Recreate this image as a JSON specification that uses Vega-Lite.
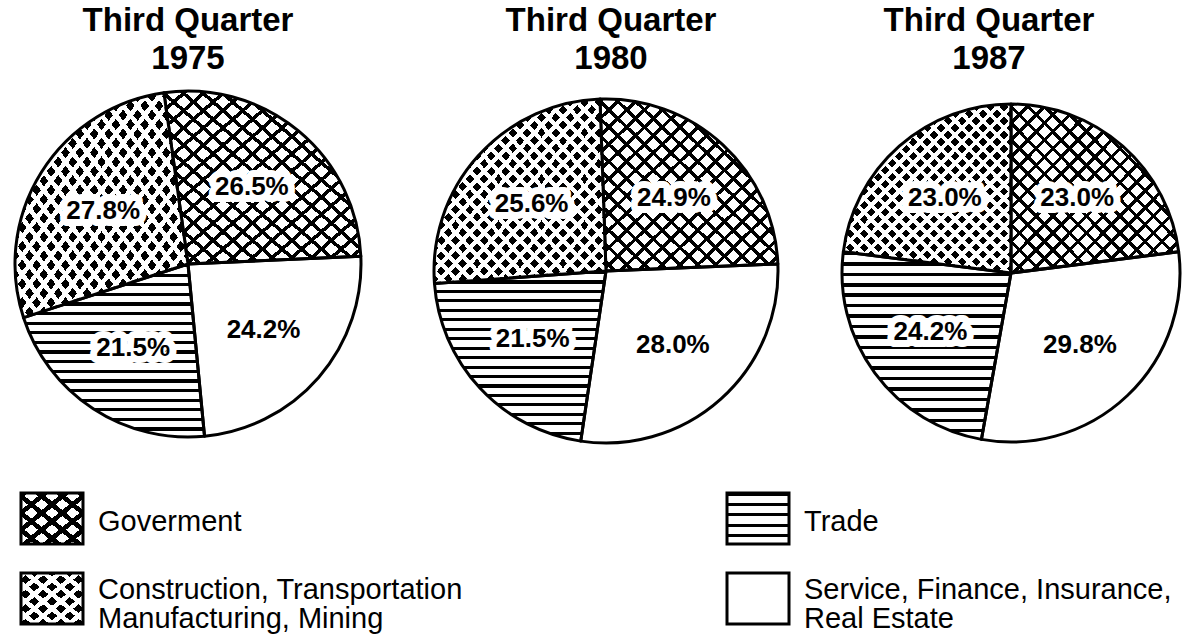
{
  "$schema": "https://vega.github.io/schema/vega-lite/v6.json",
  "background": "white",
  "padding": {"left": 0, "top": 5, "right": 0, "bottom": 0},
  "config": {"view": {"stroke": null}, "font": "Liberation Sans", "concat": {"spacing": 0}},
  "params": [
    {"name": "gTrade", "value": {"gradient": "linear", "x1": 0, "y1": 0, "x2": 0, "y2": 1, "stops": [
      {"offset": 0, "color": "#000"}, {"offset": 0.0183, "color": "#000"}, {"offset": 0.0183, "color": "#fff"}, {"offset": 0.0556, "color": "#fff"},
      {"offset": 0.0556, "color": "#000"}, {"offset": 0.0739, "color": "#000"}, {"offset": 0.0739, "color": "#fff"}, {"offset": 0.1111, "color": "#fff"},
      {"offset": 0.1111, "color": "#000"}, {"offset": 0.1294, "color": "#000"}, {"offset": 0.1294, "color": "#fff"}, {"offset": 0.1667, "color": "#fff"},
      {"offset": 0.1667, "color": "#000"}, {"offset": 0.185, "color": "#000"}, {"offset": 0.185, "color": "#fff"}, {"offset": 0.2222, "color": "#fff"},
      {"offset": 0.2222, "color": "#000"}, {"offset": 0.2406, "color": "#000"}, {"offset": 0.2406, "color": "#fff"}, {"offset": 0.2778, "color": "#fff"},
      {"offset": 0.2778, "color": "#000"}, {"offset": 0.2961, "color": "#000"}, {"offset": 0.2961, "color": "#fff"}, {"offset": 0.3333, "color": "#fff"},
      {"offset": 0.3333, "color": "#000"}, {"offset": 0.3517, "color": "#000"}, {"offset": 0.3517, "color": "#fff"}, {"offset": 0.3889, "color": "#fff"},
      {"offset": 0.3889, "color": "#000"}, {"offset": 0.4072, "color": "#000"}, {"offset": 0.4072, "color": "#fff"}, {"offset": 0.4444, "color": "#fff"},
      {"offset": 0.4444, "color": "#000"}, {"offset": 0.4628, "color": "#000"}, {"offset": 0.4628, "color": "#fff"}, {"offset": 0.5, "color": "#fff"},
      {"offset": 0.5, "color": "#000"}, {"offset": 0.5183, "color": "#000"}, {"offset": 0.5183, "color": "#fff"}, {"offset": 0.5556, "color": "#fff"},
      {"offset": 0.5556, "color": "#000"}, {"offset": 0.5739, "color": "#000"}, {"offset": 0.5739, "color": "#fff"}, {"offset": 0.6111, "color": "#fff"},
      {"offset": 0.6111, "color": "#000"}, {"offset": 0.6294, "color": "#000"}, {"offset": 0.6294, "color": "#fff"}, {"offset": 0.6667, "color": "#fff"},
      {"offset": 0.6667, "color": "#000"}, {"offset": 0.685, "color": "#000"}, {"offset": 0.685, "color": "#fff"}, {"offset": 0.7222, "color": "#fff"},
      {"offset": 0.7222, "color": "#000"}, {"offset": 0.7406, "color": "#000"}, {"offset": 0.7406, "color": "#fff"}, {"offset": 0.7778, "color": "#fff"},
      {"offset": 0.7778, "color": "#000"}, {"offset": 0.7961, "color": "#000"}, {"offset": 0.7961, "color": "#fff"}, {"offset": 0.8333, "color": "#fff"},
      {"offset": 0.8333, "color": "#000"}, {"offset": 0.8517, "color": "#000"}, {"offset": 0.8517, "color": "#fff"}, {"offset": 0.8889, "color": "#fff"},
      {"offset": 0.8889, "color": "#000"}, {"offset": 0.9072, "color": "#000"}, {"offset": 0.9072, "color": "#fff"}, {"offset": 0.9444, "color": "#fff"},
      {"offset": 0.9444, "color": "#000"}, {"offset": 0.9628, "color": "#000"}, {"offset": 0.9628, "color": "#fff"}, {"offset": 1, "color": "#fff"}]}},
    {"name": "gGovA", "value": {"gradient": "linear", "x1": 0, "y1": 0, "x2": 1, "y2": 1, "stops": [
      {"offset": 0, "color": "#000"}, {"offset": 0.0135, "color": "#000"}, {"offset": 0.0135, "color": "#fff"}, {"offset": 0.05, "color": "#fff"},
      {"offset": 0.05, "color": "#000"}, {"offset": 0.0635, "color": "#000"}, {"offset": 0.0635, "color": "#fff"}, {"offset": 0.1, "color": "#fff"},
      {"offset": 0.1, "color": "#000"}, {"offset": 0.1135, "color": "#000"}, {"offset": 0.1135, "color": "#fff"}, {"offset": 0.15, "color": "#fff"},
      {"offset": 0.15, "color": "#000"}, {"offset": 0.1635, "color": "#000"}, {"offset": 0.1635, "color": "#fff"}, {"offset": 0.2, "color": "#fff"},
      {"offset": 0.2, "color": "#000"}, {"offset": 0.2135, "color": "#000"}, {"offset": 0.2135, "color": "#fff"}, {"offset": 0.25, "color": "#fff"},
      {"offset": 0.25, "color": "#000"}, {"offset": 0.2635, "color": "#000"}, {"offset": 0.2635, "color": "#fff"}, {"offset": 0.3, "color": "#fff"},
      {"offset": 0.3, "color": "#000"}, {"offset": 0.3135, "color": "#000"}, {"offset": 0.3135, "color": "#fff"}, {"offset": 0.35, "color": "#fff"},
      {"offset": 0.35, "color": "#000"}, {"offset": 0.3635, "color": "#000"}, {"offset": 0.3635, "color": "#fff"}, {"offset": 0.4, "color": "#fff"},
      {"offset": 0.4, "color": "#000"}, {"offset": 0.4135, "color": "#000"}, {"offset": 0.4135, "color": "#fff"}, {"offset": 0.45, "color": "#fff"},
      {"offset": 0.45, "color": "#000"}, {"offset": 0.4635, "color": "#000"}, {"offset": 0.4635, "color": "#fff"}, {"offset": 0.5, "color": "#fff"},
      {"offset": 0.5, "color": "#000"}, {"offset": 0.5135, "color": "#000"}, {"offset": 0.5135, "color": "#fff"}, {"offset": 0.55, "color": "#fff"},
      {"offset": 0.55, "color": "#000"}, {"offset": 0.5635, "color": "#000"}, {"offset": 0.5635, "color": "#fff"}, {"offset": 0.6, "color": "#fff"},
      {"offset": 0.6, "color": "#000"}, {"offset": 0.6135, "color": "#000"}, {"offset": 0.6135, "color": "#fff"}, {"offset": 0.65, "color": "#fff"},
      {"offset": 0.65, "color": "#000"}, {"offset": 0.6635, "color": "#000"}, {"offset": 0.6635, "color": "#fff"}, {"offset": 0.7, "color": "#fff"},
      {"offset": 0.7, "color": "#000"}, {"offset": 0.7135, "color": "#000"}, {"offset": 0.7135, "color": "#fff"}, {"offset": 0.75, "color": "#fff"},
      {"offset": 0.75, "color": "#000"}, {"offset": 0.7635, "color": "#000"}, {"offset": 0.7635, "color": "#fff"}, {"offset": 0.8, "color": "#fff"},
      {"offset": 0.8, "color": "#000"}, {"offset": 0.8135, "color": "#000"}, {"offset": 0.8135, "color": "#fff"}, {"offset": 0.85, "color": "#fff"},
      {"offset": 0.85, "color": "#000"}, {"offset": 0.8635, "color": "#000"}, {"offset": 0.8635, "color": "#fff"}, {"offset": 0.9, "color": "#fff"},
      {"offset": 0.9, "color": "#000"}, {"offset": 0.9135, "color": "#000"}, {"offset": 0.9135, "color": "#fff"}, {"offset": 0.95, "color": "#fff"},
      {"offset": 0.95, "color": "#000"}, {"offset": 0.9635, "color": "#000"}, {"offset": 0.9635, "color": "#fff"}, {"offset": 1, "color": "#fff"}]}},
    {"name": "gGovB", "value": {"gradient": "linear", "x1": 1, "y1": 0, "x2": 0, "y2": 1, "stops": [
      {"offset": 0, "color": "#000"}, {"offset": 0.0135, "color": "#000"}, {"offset": 0.0135, "color": "rgba(0,0,0,0)"}, {"offset": 0.05, "color": "rgba(0,0,0,0)"},
      {"offset": 0.05, "color": "#000"}, {"offset": 0.0635, "color": "#000"}, {"offset": 0.0635, "color": "rgba(0,0,0,0)"}, {"offset": 0.1, "color": "rgba(0,0,0,0)"},
      {"offset": 0.1, "color": "#000"}, {"offset": 0.1135, "color": "#000"}, {"offset": 0.1135, "color": "rgba(0,0,0,0)"}, {"offset": 0.15, "color": "rgba(0,0,0,0)"},
      {"offset": 0.15, "color": "#000"}, {"offset": 0.1635, "color": "#000"}, {"offset": 0.1635, "color": "rgba(0,0,0,0)"}, {"offset": 0.2, "color": "rgba(0,0,0,0)"},
      {"offset": 0.2, "color": "#000"}, {"offset": 0.2135, "color": "#000"}, {"offset": 0.2135, "color": "rgba(0,0,0,0)"}, {"offset": 0.25, "color": "rgba(0,0,0,0)"},
      {"offset": 0.25, "color": "#000"}, {"offset": 0.2635, "color": "#000"}, {"offset": 0.2635, "color": "rgba(0,0,0,0)"}, {"offset": 0.3, "color": "rgba(0,0,0,0)"},
      {"offset": 0.3, "color": "#000"}, {"offset": 0.3135, "color": "#000"}, {"offset": 0.3135, "color": "rgba(0,0,0,0)"}, {"offset": 0.35, "color": "rgba(0,0,0,0)"},
      {"offset": 0.35, "color": "#000"}, {"offset": 0.3635, "color": "#000"}, {"offset": 0.3635, "color": "rgba(0,0,0,0)"}, {"offset": 0.4, "color": "rgba(0,0,0,0)"},
      {"offset": 0.4, "color": "#000"}, {"offset": 0.4135, "color": "#000"}, {"offset": 0.4135, "color": "rgba(0,0,0,0)"}, {"offset": 0.45, "color": "rgba(0,0,0,0)"},
      {"offset": 0.45, "color": "#000"}, {"offset": 0.4635, "color": "#000"}, {"offset": 0.4635, "color": "rgba(0,0,0,0)"}, {"offset": 0.5, "color": "rgba(0,0,0,0)"},
      {"offset": 0.5, "color": "#000"}, {"offset": 0.5135, "color": "#000"}, {"offset": 0.5135, "color": "rgba(0,0,0,0)"}, {"offset": 0.55, "color": "rgba(0,0,0,0)"},
      {"offset": 0.55, "color": "#000"}, {"offset": 0.5635, "color": "#000"}, {"offset": 0.5635, "color": "rgba(0,0,0,0)"}, {"offset": 0.6, "color": "rgba(0,0,0,0)"},
      {"offset": 0.6, "color": "#000"}, {"offset": 0.6135, "color": "#000"}, {"offset": 0.6135, "color": "rgba(0,0,0,0)"}, {"offset": 0.65, "color": "rgba(0,0,0,0)"},
      {"offset": 0.65, "color": "#000"}, {"offset": 0.6635, "color": "#000"}, {"offset": 0.6635, "color": "rgba(0,0,0,0)"}, {"offset": 0.7, "color": "rgba(0,0,0,0)"},
      {"offset": 0.7, "color": "#000"}, {"offset": 0.7135, "color": "#000"}, {"offset": 0.7135, "color": "rgba(0,0,0,0)"}, {"offset": 0.75, "color": "rgba(0,0,0,0)"},
      {"offset": 0.75, "color": "#000"}, {"offset": 0.7635, "color": "#000"}, {"offset": 0.7635, "color": "rgba(0,0,0,0)"}, {"offset": 0.8, "color": "rgba(0,0,0,0)"},
      {"offset": 0.8, "color": "#000"}, {"offset": 0.8135, "color": "#000"}, {"offset": 0.8135, "color": "rgba(0,0,0,0)"}, {"offset": 0.85, "color": "rgba(0,0,0,0)"},
      {"offset": 0.85, "color": "#000"}, {"offset": 0.8635, "color": "#000"}, {"offset": 0.8635, "color": "rgba(0,0,0,0)"}, {"offset": 0.9, "color": "rgba(0,0,0,0)"},
      {"offset": 0.9, "color": "#000"}, {"offset": 0.9135, "color": "#000"}, {"offset": 0.9135, "color": "rgba(0,0,0,0)"}, {"offset": 0.95, "color": "rgba(0,0,0,0)"},
      {"offset": 0.95, "color": "#000"}, {"offset": 0.9635, "color": "#000"}, {"offset": 0.9635, "color": "rgba(0,0,0,0)"}, {"offset": 1, "color": "rgba(0,0,0,0)"}]}},
    {"name": "gDotA", "value": {"gradient": "linear", "x1": 0, "y1": 0, "x2": 1, "y2": 1, "stops": [
      {"offset": 0, "color": "#fff"}, {"offset": 0.0167, "color": "#fff"}, {"offset": 0.0167, "color": "rgba(255,255,255,0)"}, {"offset": 0.0417, "color": "rgba(255,255,255,0)"},
      {"offset": 0.0417, "color": "#fff"}, {"offset": 0.0583, "color": "#fff"}, {"offset": 0.0583, "color": "rgba(255,255,255,0)"}, {"offset": 0.0833, "color": "rgba(255,255,255,0)"},
      {"offset": 0.0833, "color": "#fff"}, {"offset": 0.1, "color": "#fff"}, {"offset": 0.1, "color": "rgba(255,255,255,0)"}, {"offset": 0.125, "color": "rgba(255,255,255,0)"},
      {"offset": 0.125, "color": "#fff"}, {"offset": 0.1417, "color": "#fff"}, {"offset": 0.1417, "color": "rgba(255,255,255,0)"}, {"offset": 0.1667, "color": "rgba(255,255,255,0)"},
      {"offset": 0.1667, "color": "#fff"}, {"offset": 0.1833, "color": "#fff"}, {"offset": 0.1833, "color": "rgba(255,255,255,0)"}, {"offset": 0.2083, "color": "rgba(255,255,255,0)"},
      {"offset": 0.2083, "color": "#fff"}, {"offset": 0.225, "color": "#fff"}, {"offset": 0.225, "color": "rgba(255,255,255,0)"}, {"offset": 0.25, "color": "rgba(255,255,255,0)"},
      {"offset": 0.25, "color": "#fff"}, {"offset": 0.2667, "color": "#fff"}, {"offset": 0.2667, "color": "rgba(255,255,255,0)"}, {"offset": 0.2917, "color": "rgba(255,255,255,0)"},
      {"offset": 0.2917, "color": "#fff"}, {"offset": 0.3083, "color": "#fff"}, {"offset": 0.3083, "color": "rgba(255,255,255,0)"}, {"offset": 0.3333, "color": "rgba(255,255,255,0)"},
      {"offset": 0.3333, "color": "#fff"}, {"offset": 0.35, "color": "#fff"}, {"offset": 0.35, "color": "rgba(255,255,255,0)"}, {"offset": 0.375, "color": "rgba(255,255,255,0)"},
      {"offset": 0.375, "color": "#fff"}, {"offset": 0.3917, "color": "#fff"}, {"offset": 0.3917, "color": "rgba(255,255,255,0)"}, {"offset": 0.4167, "color": "rgba(255,255,255,0)"},
      {"offset": 0.4167, "color": "#fff"}, {"offset": 0.4333, "color": "#fff"}, {"offset": 0.4333, "color": "rgba(255,255,255,0)"}, {"offset": 0.4583, "color": "rgba(255,255,255,0)"},
      {"offset": 0.4583, "color": "#fff"}, {"offset": 0.475, "color": "#fff"}, {"offset": 0.475, "color": "rgba(255,255,255,0)"}, {"offset": 0.5, "color": "rgba(255,255,255,0)"},
      {"offset": 0.5, "color": "#fff"}, {"offset": 0.5167, "color": "#fff"}, {"offset": 0.5167, "color": "rgba(255,255,255,0)"}, {"offset": 0.5417, "color": "rgba(255,255,255,0)"},
      {"offset": 0.5417, "color": "#fff"}, {"offset": 0.5583, "color": "#fff"}, {"offset": 0.5583, "color": "rgba(255,255,255,0)"}, {"offset": 0.5833, "color": "rgba(255,255,255,0)"},
      {"offset": 0.5833, "color": "#fff"}, {"offset": 0.6, "color": "#fff"}, {"offset": 0.6, "color": "rgba(255,255,255,0)"}, {"offset": 0.625, "color": "rgba(255,255,255,0)"},
      {"offset": 0.625, "color": "#fff"}, {"offset": 0.6417, "color": "#fff"}, {"offset": 0.6417, "color": "rgba(255,255,255,0)"}, {"offset": 0.6667, "color": "rgba(255,255,255,0)"},
      {"offset": 0.6667, "color": "#fff"}, {"offset": 0.6833, "color": "#fff"}, {"offset": 0.6833, "color": "rgba(255,255,255,0)"}, {"offset": 0.7083, "color": "rgba(255,255,255,0)"},
      {"offset": 0.7083, "color": "#fff"}, {"offset": 0.725, "color": "#fff"}, {"offset": 0.725, "color": "rgba(255,255,255,0)"}, {"offset": 0.75, "color": "rgba(255,255,255,0)"},
      {"offset": 0.75, "color": "#fff"}, {"offset": 0.7667, "color": "#fff"}, {"offset": 0.7667, "color": "rgba(255,255,255,0)"}, {"offset": 0.7917, "color": "rgba(255,255,255,0)"},
      {"offset": 0.7917, "color": "#fff"}, {"offset": 0.8083, "color": "#fff"}, {"offset": 0.8083, "color": "rgba(255,255,255,0)"}, {"offset": 0.8333, "color": "rgba(255,255,255,0)"},
      {"offset": 0.8333, "color": "#fff"}, {"offset": 0.85, "color": "#fff"}, {"offset": 0.85, "color": "rgba(255,255,255,0)"}, {"offset": 0.875, "color": "rgba(255,255,255,0)"},
      {"offset": 0.875, "color": "#fff"}, {"offset": 0.8917, "color": "#fff"}, {"offset": 0.8917, "color": "rgba(255,255,255,0)"}, {"offset": 0.9167, "color": "rgba(255,255,255,0)"},
      {"offset": 0.9167, "color": "#fff"}, {"offset": 0.9333, "color": "#fff"}, {"offset": 0.9333, "color": "rgba(255,255,255,0)"}, {"offset": 0.9583, "color": "rgba(255,255,255,0)"},
      {"offset": 0.9583, "color": "#fff"}, {"offset": 0.975, "color": "#fff"}, {"offset": 0.975, "color": "rgba(255,255,255,0)"}, {"offset": 1, "color": "rgba(255,255,255,0)"}]}},
    {"name": "gDotB", "value": {"gradient": "linear", "x1": 1, "y1": 0, "x2": 0, "y2": 1, "stops": [
      {"offset": 0, "color": "#fff"}, {"offset": 0.0167, "color": "#fff"}, {"offset": 0.0167, "color": "rgba(255,255,255,0)"}, {"offset": 0.0417, "color": "rgba(255,255,255,0)"},
      {"offset": 0.0417, "color": "#fff"}, {"offset": 0.0583, "color": "#fff"}, {"offset": 0.0583, "color": "rgba(255,255,255,0)"}, {"offset": 0.0833, "color": "rgba(255,255,255,0)"},
      {"offset": 0.0833, "color": "#fff"}, {"offset": 0.1, "color": "#fff"}, {"offset": 0.1, "color": "rgba(255,255,255,0)"}, {"offset": 0.125, "color": "rgba(255,255,255,0)"},
      {"offset": 0.125, "color": "#fff"}, {"offset": 0.1417, "color": "#fff"}, {"offset": 0.1417, "color": "rgba(255,255,255,0)"}, {"offset": 0.1667, "color": "rgba(255,255,255,0)"},
      {"offset": 0.1667, "color": "#fff"}, {"offset": 0.1833, "color": "#fff"}, {"offset": 0.1833, "color": "rgba(255,255,255,0)"}, {"offset": 0.2083, "color": "rgba(255,255,255,0)"},
      {"offset": 0.2083, "color": "#fff"}, {"offset": 0.225, "color": "#fff"}, {"offset": 0.225, "color": "rgba(255,255,255,0)"}, {"offset": 0.25, "color": "rgba(255,255,255,0)"},
      {"offset": 0.25, "color": "#fff"}, {"offset": 0.2667, "color": "#fff"}, {"offset": 0.2667, "color": "rgba(255,255,255,0)"}, {"offset": 0.2917, "color": "rgba(255,255,255,0)"},
      {"offset": 0.2917, "color": "#fff"}, {"offset": 0.3083, "color": "#fff"}, {"offset": 0.3083, "color": "rgba(255,255,255,0)"}, {"offset": 0.3333, "color": "rgba(255,255,255,0)"},
      {"offset": 0.3333, "color": "#fff"}, {"offset": 0.35, "color": "#fff"}, {"offset": 0.35, "color": "rgba(255,255,255,0)"}, {"offset": 0.375, "color": "rgba(255,255,255,0)"},
      {"offset": 0.375, "color": "#fff"}, {"offset": 0.3917, "color": "#fff"}, {"offset": 0.3917, "color": "rgba(255,255,255,0)"}, {"offset": 0.4167, "color": "rgba(255,255,255,0)"},
      {"offset": 0.4167, "color": "#fff"}, {"offset": 0.4333, "color": "#fff"}, {"offset": 0.4333, "color": "rgba(255,255,255,0)"}, {"offset": 0.4583, "color": "rgba(255,255,255,0)"},
      {"offset": 0.4583, "color": "#fff"}, {"offset": 0.475, "color": "#fff"}, {"offset": 0.475, "color": "rgba(255,255,255,0)"}, {"offset": 0.5, "color": "rgba(255,255,255,0)"},
      {"offset": 0.5, "color": "#fff"}, {"offset": 0.5167, "color": "#fff"}, {"offset": 0.5167, "color": "rgba(255,255,255,0)"}, {"offset": 0.5417, "color": "rgba(255,255,255,0)"},
      {"offset": 0.5417, "color": "#fff"}, {"offset": 0.5583, "color": "#fff"}, {"offset": 0.5583, "color": "rgba(255,255,255,0)"}, {"offset": 0.5833, "color": "rgba(255,255,255,0)"},
      {"offset": 0.5833, "color": "#fff"}, {"offset": 0.6, "color": "#fff"}, {"offset": 0.6, "color": "rgba(255,255,255,0)"}, {"offset": 0.625, "color": "rgba(255,255,255,0)"},
      {"offset": 0.625, "color": "#fff"}, {"offset": 0.6417, "color": "#fff"}, {"offset": 0.6417, "color": "rgba(255,255,255,0)"}, {"offset": 0.6667, "color": "rgba(255,255,255,0)"},
      {"offset": 0.6667, "color": "#fff"}, {"offset": 0.6833, "color": "#fff"}, {"offset": 0.6833, "color": "rgba(255,255,255,0)"}, {"offset": 0.7083, "color": "rgba(255,255,255,0)"},
      {"offset": 0.7083, "color": "#fff"}, {"offset": 0.725, "color": "#fff"}, {"offset": 0.725, "color": "rgba(255,255,255,0)"}, {"offset": 0.75, "color": "rgba(255,255,255,0)"},
      {"offset": 0.75, "color": "#fff"}, {"offset": 0.7667, "color": "#fff"}, {"offset": 0.7667, "color": "rgba(255,255,255,0)"}, {"offset": 0.7917, "color": "rgba(255,255,255,0)"},
      {"offset": 0.7917, "color": "#fff"}, {"offset": 0.8083, "color": "#fff"}, {"offset": 0.8083, "color": "rgba(255,255,255,0)"}, {"offset": 0.8333, "color": "rgba(255,255,255,0)"},
      {"offset": 0.8333, "color": "#fff"}, {"offset": 0.85, "color": "#fff"}, {"offset": 0.85, "color": "rgba(255,255,255,0)"}, {"offset": 0.875, "color": "rgba(255,255,255,0)"},
      {"offset": 0.875, "color": "#fff"}, {"offset": 0.8917, "color": "#fff"}, {"offset": 0.8917, "color": "rgba(255,255,255,0)"}, {"offset": 0.9167, "color": "rgba(255,255,255,0)"},
      {"offset": 0.9167, "color": "#fff"}, {"offset": 0.9333, "color": "#fff"}, {"offset": 0.9333, "color": "rgba(255,255,255,0)"}, {"offset": 0.9583, "color": "rgba(255,255,255,0)"},
      {"offset": 0.9583, "color": "#fff"}, {"offset": 0.975, "color": "#fff"}, {"offset": 0.975, "color": "rgba(255,255,255,0)"}, {"offset": 1, "color": "rgba(255,255,255,0)"}]}},
    {"name": "gTradeL", "value": {"gradient": "linear", "x1": 0, "y1": 0, "x2": 0, "y2": 1, "stops": [
      {"offset": 0, "color": "#000"}, {"offset": 0.06, "color": "#000"}, {"offset": 0.06, "color": "#fff"}, {"offset": 0.2, "color": "#fff"},
      {"offset": 0.2, "color": "#000"}, {"offset": 0.26, "color": "#000"}, {"offset": 0.26, "color": "#fff"}, {"offset": 0.4, "color": "#fff"},
      {"offset": 0.4, "color": "#000"}, {"offset": 0.46, "color": "#000"}, {"offset": 0.46, "color": "#fff"}, {"offset": 0.6, "color": "#fff"},
      {"offset": 0.6, "color": "#000"}, {"offset": 0.66, "color": "#000"}, {"offset": 0.66, "color": "#fff"}, {"offset": 0.8, "color": "#fff"},
      {"offset": 0.8, "color": "#000"}, {"offset": 0.86, "color": "#000"}, {"offset": 0.86, "color": "#fff"}, {"offset": 1, "color": "#fff"}]}},
    {"name": "gGovLA", "value": {"gradient": "linear", "x1": 0, "y1": 0, "x2": 1, "y2": 1, "stops": [
      {"offset": 0, "color": "#000"}, {"offset": 0.0583, "color": "#000"}, {"offset": 0.0583, "color": "#fff"}, {"offset": 0.1667, "color": "#fff"},
      {"offset": 0.1667, "color": "#000"}, {"offset": 0.225, "color": "#000"}, {"offset": 0.225, "color": "#fff"}, {"offset": 0.3333, "color": "#fff"},
      {"offset": 0.3333, "color": "#000"}, {"offset": 0.3917, "color": "#000"}, {"offset": 0.3917, "color": "#fff"}, {"offset": 0.5, "color": "#fff"},
      {"offset": 0.5, "color": "#000"}, {"offset": 0.5583, "color": "#000"}, {"offset": 0.5583, "color": "#fff"}, {"offset": 0.6667, "color": "#fff"},
      {"offset": 0.6667, "color": "#000"}, {"offset": 0.725, "color": "#000"}, {"offset": 0.725, "color": "#fff"}, {"offset": 0.8333, "color": "#fff"},
      {"offset": 0.8333, "color": "#000"}, {"offset": 0.8917, "color": "#000"}, {"offset": 0.8917, "color": "#fff"}, {"offset": 1, "color": "#fff"}]}},
    {"name": "gGovLB", "value": {"gradient": "linear", "x1": 1, "y1": 0, "x2": 0, "y2": 1, "stops": [
      {"offset": 0, "color": "#000"}, {"offset": 0.0583, "color": "#000"}, {"offset": 0.0583, "color": "rgba(0,0,0,0)"}, {"offset": 0.1667, "color": "rgba(0,0,0,0)"},
      {"offset": 0.1667, "color": "#000"}, {"offset": 0.225, "color": "#000"}, {"offset": 0.225, "color": "rgba(0,0,0,0)"}, {"offset": 0.3333, "color": "rgba(0,0,0,0)"},
      {"offset": 0.3333, "color": "#000"}, {"offset": 0.3917, "color": "#000"}, {"offset": 0.3917, "color": "rgba(0,0,0,0)"}, {"offset": 0.5, "color": "rgba(0,0,0,0)"},
      {"offset": 0.5, "color": "#000"}, {"offset": 0.5583, "color": "#000"}, {"offset": 0.5583, "color": "rgba(0,0,0,0)"}, {"offset": 0.6667, "color": "rgba(0,0,0,0)"},
      {"offset": 0.6667, "color": "#000"}, {"offset": 0.725, "color": "#000"}, {"offset": 0.725, "color": "rgba(0,0,0,0)"}, {"offset": 0.8333, "color": "rgba(0,0,0,0)"},
      {"offset": 0.8333, "color": "#000"}, {"offset": 0.8917, "color": "#000"}, {"offset": 0.8917, "color": "rgba(0,0,0,0)"}, {"offset": 1, "color": "rgba(0,0,0,0)"}]}},
    {"name": "gDotLA", "value": {"gradient": "linear", "x1": 0, "y1": 0, "x2": 1, "y2": 1, "stops": [
      {"offset": 0, "color": "#fff"}, {"offset": 0.0571, "color": "#fff"}, {"offset": 0.0571, "color": "rgba(255,255,255,0)"}, {"offset": 0.1429, "color": "rgba(255,255,255,0)"},
      {"offset": 0.1429, "color": "#fff"}, {"offset": 0.2, "color": "#fff"}, {"offset": 0.2, "color": "rgba(255,255,255,0)"}, {"offset": 0.2857, "color": "rgba(255,255,255,0)"},
      {"offset": 0.2857, "color": "#fff"}, {"offset": 0.3429, "color": "#fff"}, {"offset": 0.3429, "color": "rgba(255,255,255,0)"}, {"offset": 0.4286, "color": "rgba(255,255,255,0)"},
      {"offset": 0.4286, "color": "#fff"}, {"offset": 0.4857, "color": "#fff"}, {"offset": 0.4857, "color": "rgba(255,255,255,0)"}, {"offset": 0.5714, "color": "rgba(255,255,255,0)"},
      {"offset": 0.5714, "color": "#fff"}, {"offset": 0.6286, "color": "#fff"}, {"offset": 0.6286, "color": "rgba(255,255,255,0)"}, {"offset": 0.7143, "color": "rgba(255,255,255,0)"},
      {"offset": 0.7143, "color": "#fff"}, {"offset": 0.7714, "color": "#fff"}, {"offset": 0.7714, "color": "rgba(255,255,255,0)"}, {"offset": 0.8571, "color": "rgba(255,255,255,0)"},
      {"offset": 0.8571, "color": "#fff"}, {"offset": 0.9143, "color": "#fff"}, {"offset": 0.9143, "color": "rgba(255,255,255,0)"}, {"offset": 1, "color": "rgba(255,255,255,0)"}]}},
    {"name": "gDotLB", "value": {"gradient": "linear", "x1": 1, "y1": 0, "x2": 0, "y2": 1, "stops": [
      {"offset": 0, "color": "#fff"}, {"offset": 0.0571, "color": "#fff"}, {"offset": 0.0571, "color": "rgba(255,255,255,0)"}, {"offset": 0.1429, "color": "rgba(255,255,255,0)"},
      {"offset": 0.1429, "color": "#fff"}, {"offset": 0.2, "color": "#fff"}, {"offset": 0.2, "color": "rgba(255,255,255,0)"}, {"offset": 0.2857, "color": "rgba(255,255,255,0)"},
      {"offset": 0.2857, "color": "#fff"}, {"offset": 0.3429, "color": "#fff"}, {"offset": 0.3429, "color": "rgba(255,255,255,0)"}, {"offset": 0.4286, "color": "rgba(255,255,255,0)"},
      {"offset": 0.4286, "color": "#fff"}, {"offset": 0.4857, "color": "#fff"}, {"offset": 0.4857, "color": "rgba(255,255,255,0)"}, {"offset": 0.5714, "color": "rgba(255,255,255,0)"},
      {"offset": 0.5714, "color": "#fff"}, {"offset": 0.6286, "color": "#fff"}, {"offset": 0.6286, "color": "rgba(255,255,255,0)"}, {"offset": 0.7143, "color": "rgba(255,255,255,0)"},
      {"offset": 0.7143, "color": "#fff"}, {"offset": 0.7714, "color": "#fff"}, {"offset": 0.7714, "color": "rgba(255,255,255,0)"}, {"offset": 0.8571, "color": "rgba(255,255,255,0)"},
      {"offset": 0.8571, "color": "#fff"}, {"offset": 0.9143, "color": "#fff"}, {"offset": 0.9143, "color": "rgba(255,255,255,0)"}, {"offset": 1, "color": "rgba(255,255,255,0)"}]}}
  ],
  "datasets": {
    "pies": [
      {"year": "1975", "cat": "Government", "ord": 1, "pct": 26.5, "label": "26.5%"},
      {"year": "1975", "cat": "Service", "ord": 2, "pct": 24.2, "label": "24.2%"},
      {"year": "1975", "cat": "Trade", "ord": 3, "pct": 21.5, "label": "21.5%"},
      {"year": "1975", "cat": "Construction", "ord": 4, "pct": 27.8, "label": "27.8%"},
      {"year": "1980", "cat": "Government", "ord": 1, "pct": 24.9, "label": "24.9%"},
      {"year": "1980", "cat": "Service", "ord": 2, "pct": 28.0, "label": "28.0%"},
      {"year": "1980", "cat": "Trade", "ord": 3, "pct": 21.5, "label": "21.5%"},
      {"year": "1980", "cat": "Construction", "ord": 4, "pct": 25.6, "label": "25.6%"},
      {"year": "1987", "cat": "Government", "ord": 1, "pct": 23.0, "label": "23.0%"},
      {"year": "1987", "cat": "Service", "ord": 2, "pct": 29.8, "label": "29.8%"},
      {"year": "1987", "cat": "Trade", "ord": 3, "pct": 24.2, "label": "24.2%"},
      {"year": "1987", "cat": "Construction", "ord": 4, "pct": 23.0, "label": "23.0%"}
    ],
    "legend": [
      {"cat": "Government", "label": "Goverment", "label2": ""},
      {"cat": "Trade", "label": "Trade", "label2": ""},
      {"cat": "Construction", "label": "Construction, Transportation", "label2": "Manufacturing, Mining"},
      {"cat": "Service", "label": "Service, Finance, Insurance,", "label2": "Real Estate"}
    ]
  },
  "spacing": 29,
  "vconcat": [
    {
      "spacing": 0,
      "hconcat": [
        {
          "width": 376, "height": 352,
          "title": {"text": ["Third Quarter", "1975"], "fontSize": 33, "fontWeight": "bold", "lineHeight": 38, "offset": 12, "color": "#000", "anchor": "middle"},
          "data": {"name": "pies"},
          "transform": [{"filter": "datum.year === '1975'"}],
          "encoding": {
            "theta": {"field": "pct", "type": "quantitative", "stack": true, "scale": {"domain": [0, 100], "range": [-0.13963, 6.14356]}},
            "order": {"field": "ord", "type": "quantitative"}
          },
          "layer": [
            {"mark": {"type": "arc", "outerRadius": 173}, "encoding": {"fill": {"condition": [{"test": "datum.cat === 'Government'", "value": {"expr": "gGovA"}}, {"test": "datum.cat === 'Trade'", "value": {"expr": "gTrade"}}, {"test": "datum.cat === 'Construction'", "value": "#000"}], "value": "#fff"}}},
            {"mark": {"type": "arc", "outerRadius": 173}, "encoding": {"fill": {"condition": [{"test": "datum.cat === 'Government'", "value": {"expr": "gGovB"}}, {"test": "datum.cat === 'Construction'", "value": {"expr": "gDotA"}}], "value": "transparent"}}},
            {"mark": {"type": "arc", "outerRadius": 173, "stroke": "#000", "strokeWidth": 3, "strokeJoin": "round"}, "encoding": {"fill": {"condition": [{"test": "datum.cat === 'Construction'", "value": {"expr": "gDotB"}}], "value": "transparent"}}},
            {"mark": {"type": "text", "radius": 100, "fontSize": 26, "fontWeight": "bold", "fill": "#fff", "stroke": "#fff", "strokeWidth": 14, "strokeJoin": "round"}, "encoding": {"text": {"field": "label"}}},
            {"mark": {"type": "text", "radius": 100, "fontSize": 26, "fontWeight": "bold", "fill": "#000"}, "encoding": {"text": {"field": "label"}}}
          ]
        },
        {
          "width": 460, "height": 366,
          "title": {"text": ["Third Quarter", "1980"], "fontSize": 33, "fontWeight": "bold", "lineHeight": 38, "offset": 12, "dx": 5, "color": "#000", "anchor": "middle"},
          "data": {"name": "pies"},
          "transform": [{"filter": "datum.year === '1980'"}],
          "encoding": {
            "theta": {"field": "pct", "type": "quantitative", "stack": true, "scale": {"domain": [0, 100], "range": [-0.034907, 6.248278]}},
            "order": {"field": "ord", "type": "quantitative"}
          },
          "layer": [
            {"mark": {"type": "arc", "outerRadius": 172}, "encoding": {"fill": {"condition": [{"test": "datum.cat === 'Government'", "value": {"expr": "gGovA"}}, {"test": "datum.cat === 'Trade'", "value": {"expr": "gTrade"}}, {"test": "datum.cat === 'Construction'", "value": "#000"}], "value": "#fff"}}},
            {"mark": {"type": "arc", "outerRadius": 172}, "encoding": {"fill": {"condition": [{"test": "datum.cat === 'Government'", "value": {"expr": "gGovB"}}, {"test": "datum.cat === 'Construction'", "value": {"expr": "gDotA"}}], "value": "transparent"}}},
            {"mark": {"type": "arc", "outerRadius": 172, "stroke": "#000", "strokeWidth": 3, "strokeJoin": "round"}, "encoding": {"fill": {"condition": [{"test": "datum.cat === 'Construction'", "value": {"expr": "gDotB"}}], "value": "transparent"}}},
            {"mark": {"type": "text", "radius": 100, "fontSize": 26, "fontWeight": "bold", "fill": "#fff", "stroke": "#fff", "strokeWidth": 14, "strokeJoin": "round"}, "encoding": {"text": {"field": "label"}}},
            {"mark": {"type": "text", "radius": 100, "fontSize": 26, "fontWeight": "bold", "fill": "#000"}, "encoding": {"text": {"field": "label"}}}
          ]
        },
        {
          "width": 350, "height": 370,
          "title": {"text": ["Third Quarter", "1987"], "fontSize": 33, "fontWeight": "bold", "lineHeight": 38, "offset": 12, "dx": -22, "color": "#000", "anchor": "middle"},
          "data": {"name": "pies"},
          "transform": [{"filter": "datum.year === '1987'"}],
          "encoding": {
            "theta": {"field": "pct", "type": "quantitative", "stack": true, "scale": {"domain": [0, 100], "range": [0, 6.283185]}},
            "order": {"field": "ord", "type": "quantitative"}
          },
          "layer": [
            {"mark": {"type": "arc", "outerRadius": 169}, "encoding": {"fill": {"condition": [{"test": "datum.cat === 'Government'", "value": {"expr": "gGovA"}}, {"test": "datum.cat === 'Trade'", "value": {"expr": "gTrade"}}, {"test": "datum.cat === 'Construction'", "value": "#000"}], "value": "#fff"}}},
            {"mark": {"type": "arc", "outerRadius": 169}, "encoding": {"fill": {"condition": [{"test": "datum.cat === 'Government'", "value": {"expr": "gGovB"}}, {"test": "datum.cat === 'Construction'", "value": {"expr": "gDotA"}}], "value": "transparent"}}},
            {"mark": {"type": "arc", "outerRadius": 169, "stroke": "#000", "strokeWidth": 3, "strokeJoin": "round"}, "encoding": {"fill": {"condition": [{"test": "datum.cat === 'Construction'", "value": {"expr": "gDotB"}}], "value": "transparent"}}},
            {"mark": {"type": "text", "radius": 100, "fontSize": 26, "fontWeight": "bold", "fill": "#fff", "stroke": "#fff", "strokeWidth": 14, "strokeJoin": "round"}, "encoding": {"text": {"field": "label"}}},
            {"mark": {"type": "text", "radius": 100, "fontSize": 26, "fontWeight": "bold", "fill": "#000"}, "encoding": {"text": {"field": "label"}}}
          ]
        }
      ]
    },
    {
      "spacing": 17,
      "vconcat": [
        {
          "spacing": 602,
          "bounds": "flush",
          "hconcat": [
            {
              "width": 104, "height": 51,
              "data": {"name": "legend"},
              "transform": [{"filter": "datum.cat === 'Government'"}],
              "layer": [
                {"mark": {"type": "point", "filled": true, "opacity": 1, "shape": "M-1,-0.82H1V0.82H-1Z", "size": 3844, "strokeWidth": 0, "fill": {"expr": "gGovLA"}}},
                {"mark": {"type": "point", "filled": true, "opacity": 1, "shape": "M-1,-0.82H1V0.82H-1Z", "size": 3844, "fill": {"expr": "gGovLB"}, "stroke": "#000", "strokeWidth": 3}},
                {"mark": {"type": "text", "align": "left", "baseline": "middle", "dx": 46, "dy": 3, "fontSize": 29, "fill": "#000"}, "encoding": {"text": {"field": "label"}}}
              ]
            },
            {
              "width": 104, "height": 51,
              "data": {"name": "legend"},
              "transform": [{"filter": "datum.cat === 'Trade'"}],
              "layer": [
                {"mark": {"type": "point", "filled": true, "opacity": 1, "shape": "M-1,-0.82H1V0.82H-1Z", "size": 3844, "fill": {"expr": "gTradeL"}, "stroke": "#000", "strokeWidth": 3}},
                {"mark": {"type": "text", "align": "left", "baseline": "middle", "dx": 46, "dy": 3, "fontSize": 29, "fill": "#000"}, "encoding": {"text": {"field": "label"}}}
              ]
            }
          ]
        },
        {
          "spacing": 602,
          "bounds": "flush",
          "hconcat": [
            {
              "width": 104, "height": 51,
              "data": {"name": "legend"},
              "transform": [{"filter": "datum.cat === 'Construction'"}],
              "layer": [
                {"mark": {"type": "point", "filled": true, "opacity": 1, "shape": "M-1,-0.82H1V0.82H-1Z", "size": 3844, "strokeWidth": 0, "fill": "#000"}},
                {"mark": {"type": "point", "filled": true, "opacity": 1, "shape": "M-1,-0.82H1V0.82H-1Z", "size": 3844, "strokeWidth": 0, "fill": {"expr": "gDotLA"}}},
                {"mark": {"type": "point", "filled": true, "opacity": 1, "shape": "M-1,-0.82H1V0.82H-1Z", "size": 3844, "fill": {"expr": "gDotLB"}, "stroke": "#000", "strokeWidth": 3}},
                {"mark": {"type": "text", "align": "left", "baseline": "middle", "dx": 46, "dy": -9, "fontSize": 29, "fill": "#000"}, "encoding": {"text": {"field": "label"}}},
                {"mark": {"type": "text", "align": "left", "baseline": "middle", "dx": 46, "dy": 20, "fontSize": 29, "fill": "#000"}, "encoding": {"text": {"field": "label2"}}}
              ]
            },
            {
              "width": 104, "height": 51,
              "data": {"name": "legend"},
              "transform": [{"filter": "datum.cat === 'Service'"}],
              "layer": [
                {"mark": {"type": "point", "filled": true, "opacity": 1, "shape": "M-1,-0.82H1V0.82H-1Z", "size": 3844, "fill": "#fff", "stroke": "#000", "strokeWidth": 3}},
                {"mark": {"type": "text", "align": "left", "baseline": "middle", "dx": 46, "dy": -9, "fontSize": 29, "fill": "#000"}, "encoding": {"text": {"field": "label"}}},
                {"mark": {"type": "text", "align": "left", "baseline": "middle", "dx": 46, "dy": 20, "fontSize": 29, "fill": "#000"}, "encoding": {"text": {"field": "label2"}}}
              ]
            }
          ]
        }
      ]
    }
  ]
}
